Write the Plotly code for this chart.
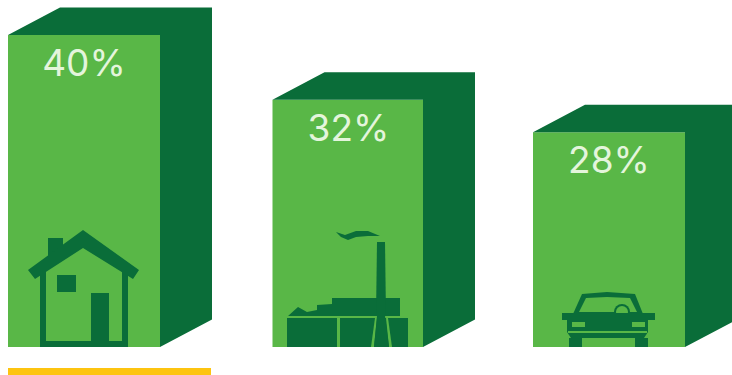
import plotly.graph_objects as go

# Share of total by sector
categories = ["Homes", "Industry", "Transport"]
shares = [40, 32, 28]
labels = ["40%", "32%", "28%"]
left_edges = [8, 272.5, 533]
bar_widths = [152, 150.5, 152]

DEPTH_X = 52
WIDTH, HEIGHT = 732, 375
BASELINE_PX = 347
PX_PER_UNIT = 8.1
AXIS_FLOOR = 1.48   # value axis starts just above zero
DEPTH_Y = 27.5 / PX_PER_UNIT

FRONT = "#59b747"
DARK = "#0a6d39"
TEXT = "#e4f5dc"
YELLOW = "#fdc410"


def yv(py):
    """Canvas row to value-axis position."""
    return AXIS_FLOOR + (BASELINE_PX - py) / PX_PER_UNIT


def poly(points, color):
    d = "M" + " L".join(f"{x},{yv(y):.3f}" for x, y in points) + " Z"
    return dict(type="path", path=d, xref="x", yref="y", fillcolor=color, line_width=0, layer="above")


def rect(x0, y0, x1, y1, color):
    return poly([(x0, y0), (x1, y0), (x1, y1), (x0, y1)], color)


def circle(cx, cy, r, color):
    return dict(type="circle", xref="x", yref="y", x0=cx - r, x1=cx + r,
                y0=yv(cy + r), y1=yv(cy - r), fillcolor=color, line_width=0, layer="above")


fig = go.Figure()

# Front faces
fig.add_bar(
    x=[e + w / 2 for e, w in zip(left_edges, bar_widths)],
    y=[v - AXIS_FLOOR for v in shares],
    base=AXIS_FLOOR, width=bar_widths,
    marker=dict(color=FRONT, line_width=0), hoverinfo="skip", name="share",
)

# Side and top faces of each block follow the bar height
for edge, w, v in zip(left_edges, bar_widths, shares):
    r = edge + w
    foot = AXIS_FLOOR
    fig.add_scatter(
        x=[r, r + DEPTH_X, r + DEPTH_X, edge + DEPTH_X, edge, r, r],
        y=[foot, foot + DEPTH_Y, v + DEPTH_Y, v + DEPTH_Y, v, v, foot],
        mode="lines", fill="toself", fillcolor=DARK, line=dict(width=0),
        hoverinfo="skip",
    )

# Percentage labels
fig.add_scatter(
    x=[e + 76 for e in left_edges],
    y=[v - 31.5 / PX_PER_UNIT for v in shares],
    mode="text", text=labels, textposition="middle center",
    textfont=dict(family="Inter", size=37, color=TEXT, weight=400), hoverinfo="skip",
)

shapes = []

# House
shapes += [
    rect(48, 238, 63, 258, DARK),
    poly([(83, 230), (139, 270), (133, 279), (83, 248), (35, 279), (28, 270)], DARK),
    poly([(40, 272), (46, 268), (46, 341), (91, 341), (91, 293), (109, 293), (109, 341),
          (122, 341), (122, 268), (128, 272), (128, 347), (40, 347)], DARK),
    rect(57, 275, 76, 292, DARK),
]

# Factory
shapes += [
    rect(287, 318, 408, 347, DARK),
    poly([(288, 316), (298, 307), (307, 312), (317, 310), (317, 305), (332, 304), (332, 298),
          (400, 298), (400, 316)], DARK),
    rect(337, 318, 340, 347, FRONT),
    poly([(371, 347), (375, 318), (377, 318), (374, 347)], FRONT),
    poly([(389, 347), (386, 318), (388, 318), (392, 347)], FRONT),
    poly([(377, 242), (385, 242), (386, 316), (376, 316)], DARK),
    poly([(377, 316), (385, 316), (389, 347), (374, 347)], DARK),
    poly([(336, 232), (345, 235), (356, 231), (368, 231), (380, 236), (368, 236), (356, 237),
          (348, 240), (341, 237)], DARK),
]

# Car
shapes += [
    poly([(573, 314), (582, 294), (607, 292), (635, 294), (643, 314)], DARK),
    poly([(579, 312), (586, 298), (607, 297), (630, 298), (637, 312)], FRONT),
    circle(622, 312, 8, DARK),
    circle(622, 312, 6, FRONT),
    rect(562, 313, 655, 320, DARK),
    poly([(567, 314), (648, 314), (648, 332), (644, 338), (571, 338), (567, 332)], DARK),
    rect(569, 338, 582, 347, DARK),
    rect(635, 338, 648, 347, DARK),
    rect(572, 322, 585, 327, FRONT),
    rect(632, 322, 645, 327, FRONT),
    rect(568, 331, 647, 333, FRONT),
]

# Yellow rule beneath the first block
shapes.append(rect(8, 368, 211, 375, YELLOW))

fig.update_layout(
    width=WIDTH, height=HEIGHT, margin=dict(l=0, r=0, t=0, b=0),
    paper_bgcolor="white", plot_bgcolor="white", showlegend=False, shapes=shapes,
    xaxis=dict(range=[0, WIDTH], visible=False, fixedrange=True),
    yaxis=dict(range=[yv(HEIGHT), yv(0)], visible=False, fixedrange=True),
)

fig.write_html("out.html", config={"displayModeBar": False})
